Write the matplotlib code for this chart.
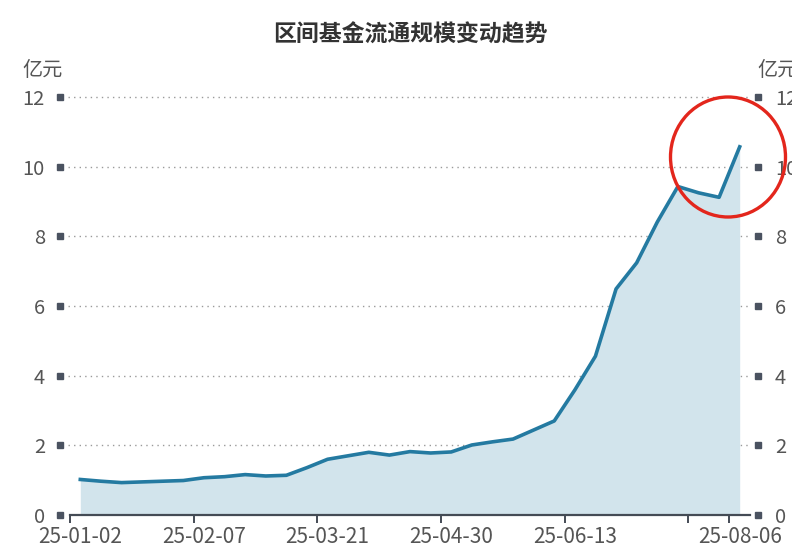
import matplotlib
matplotlib.use("Agg")
import matplotlib.pyplot as plt
from matplotlib.patches import Ellipse
from matplotlib.transforms import blended_transform_factory

plt.rcParams["font.family"] = ["Noto Sans CJK SC", "DejaVu Sans"]

# weekly observation dates (YY-MM-DD)
dates = ["25-01-02", "25-01-08", "25-01-14", "25-01-20", "25-01-24", "25-01-31",
         "25-02-07", "25-02-14", "25-02-21", "25-02-28", "25-03-07", "25-03-14",
         "25-03-21", "25-03-28", "25-04-03", "25-04-11", "25-04-18", "25-04-25",
         "25-04-30", "25-05-09", "25-05-16", "25-05-23", "25-05-30", "25-06-06",
         "25-06-13", "25-06-20", "25-06-27", "25-07-04", "25-07-11", "25-07-18",
         "25-07-25", "25-08-01", "25-08-06"]
# fund circulating scale, 100 million CNY
scale = [1.02, 0.97, 0.93, 0.95, 0.97, 0.99, 1.07, 1.10, 1.16, 1.12, 1.14, 1.36,
         1.60, 1.70, 1.80, 1.72, 1.82, 1.78, 1.81, 2.01, 2.10, 2.18, 2.44, 2.70,
         3.59, 4.56, 6.49, 7.24, 8.41, 9.43, 9.25, 9.12, 10.57]
label_idx = [0, 6, 12, 18, 24, 32]
yticks = [0, 2, 4, 6, 8, 10, 12]

W, H = 792, 556
fig = plt.figure(figsize=(W / 100, H / 100), dpi=100)
ax = fig.add_axes([70 / W, 1 - 515 / H, 680 / W, 418 / H])

xs = list(range(len(scale)))
ax.fill_between(xs, 0, scale, color="#d2e4ec", lw=0)
ax.plot(xs, scale, color="#247aa1", lw=2.6, solid_joinstyle="round")

ax.set_xlim(-0.5, len(scale) - 0.5)
ax.set_ylim(0, 12)

for s in ["top", "left", "right"]:
    ax.spines[s].set_visible(False)
ax.spines["bottom"].set_color("#444b55")
ax.spines["bottom"].set_linewidth(1.6)

# category boundaries get tick marks, centres get the labels
ax.set_xticks([i - 0.5 for i in [0, 6, 12, 18, 24, 30, 32]])
ax.set_xticklabels([])
ax.tick_params(axis="x", which="major", length=6, width=1.4, color="#444b55")
ax.set_xticks(label_idx, minor=True)
ax.set_xticklabels([dates[i] for i in label_idx], minor=True)
ax.tick_params(axis="x", which="minor", length=0, pad=8, labelsize=15,
               labelcolor="#555555")

ax.set_yticks(yticks)
ax.set_yticklabels([str(v) for v in yticks])
ax.tick_params(axis="y", length=0, pad=18, labelsize=14.5, labelcolor="#555555")
for v in yticks[1:]:
    ax.axhline(v, color="#9a9a9a", lw=1, ls=(0, (1, 3)), zorder=0,
               xmin=-0.003, xmax=0.997, clip_on=False)

ax2 = ax.twinx()
ax2.set_ylim(0, 12)
ax2.set_yticks(yticks)
ax2.set_yticklabels([str(v) for v in yticks])
ax2.tick_params(axis="y", length=0, pad=18, labelsize=14.5, labelcolor="#555555")
for s in ["top", "left", "right", "bottom"]:
    ax2.spines[s].set_visible(False)

# little square markers beside each y label
tr = blended_transform_factory(ax.transAxes, ax.transData)
ax.plot([-10 / 680] * len(yticks), yticks, "s", ms=4.5, color="#4a5260",
        transform=tr, clip_on=False)
ax.plot([1 + 8 / 680] * len(yticks), yticks, "s", ms=4.5, color="#4a5260",
        transform=tr, clip_on=False)

fig.text(43 / W, 1 - 70 / H, "亿元", ha="center", va="center", fontsize=14.5,
         color="#555555")
fig.text(757 / W, 1 - 70 / H, "亿元", ha="left", va="center", fontsize=14.5,
         color="#555555")
fig.text(410 / W, 1 - 35 / H, "区间基金流通规模变动趋势", ha="center", va="center",
         fontsize=16.5, fontweight="bold", color="#333333")

# red highlight circle
fig.patches.append(Ellipse((728 / W, 1 - 157 / H), 115 / W, 120 / H,
                           transform=fig.transFigure, fill=False,
                           edgecolor="#e3261c", lw=2.4))

fig.savefig("out.png", dpi=100)
